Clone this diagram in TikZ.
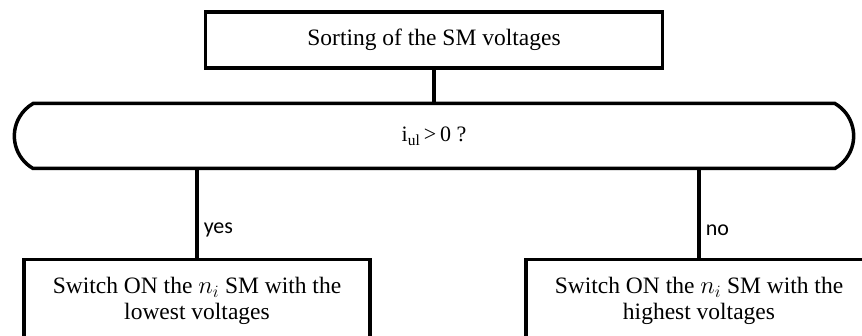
\documentclass[tikz,border=0pt]{standalone}
\usepackage{fontspec}
\setmainfont{Liberation Serif}
\newfontfamily\labelfont{Carlito}
\usetikzlibrary{positioning}
\usetikzlibrary{shapes.misc}
\tikzstyle{stepbox}=[draw=black, line width=3.5pt, fill=white, align=center, font=\fontsize{23.5}{25.5}\selectfont]
\tikzstyle{decision}=[stepbox, rounded rectangle, rounded rectangle arc length=120, font=\fontsize{22}{26}\selectfont]
\tikzstyle{flow}=[draw=black, line width=3.5pt]
\tikzstyle{answer}=[font=\labelfont\fontsize{22}{26}\selectfont, inner sep=5pt]

\begin{document}
\begin{tikzpicture}[x=1pt, y=-1pt]
\useasboundingbox (0,0) rectangle (862,336);
\clip (0,0) rectangle (862,336);
\node[stepbox, minimum width=457, minimum height=56] (sort) at (434,40) {Sorting of the SM voltages};
\node[decision, minimum width=846, minimum height=65] (cond) at (434,136) {i\textsubscript{ul}\,>\,0 ?};
\node[stepbox, minimum width=346, minimum height=82, anchor=north] (low) at (197,258) {Switch ON the $n_i$ SM with the\\lowest voltages};
\node[stepbox, minimum width=346, minimum height=82, anchor=north] (high) at (699,258) {Switch ON the $n_i$ SM with the\\highest voltages};
\draw[flow] (sort.south) -- (sort.south |- cond.north);
\draw[flow] (low.north |- cond.south) -- (low.north) node[pos=0.68, right, answer] {yes};
\draw[flow] (high.north |- cond.south) -- (high.north) node[pos=0.68, right, answer] {no};
\end{tikzpicture}
\end{document}
